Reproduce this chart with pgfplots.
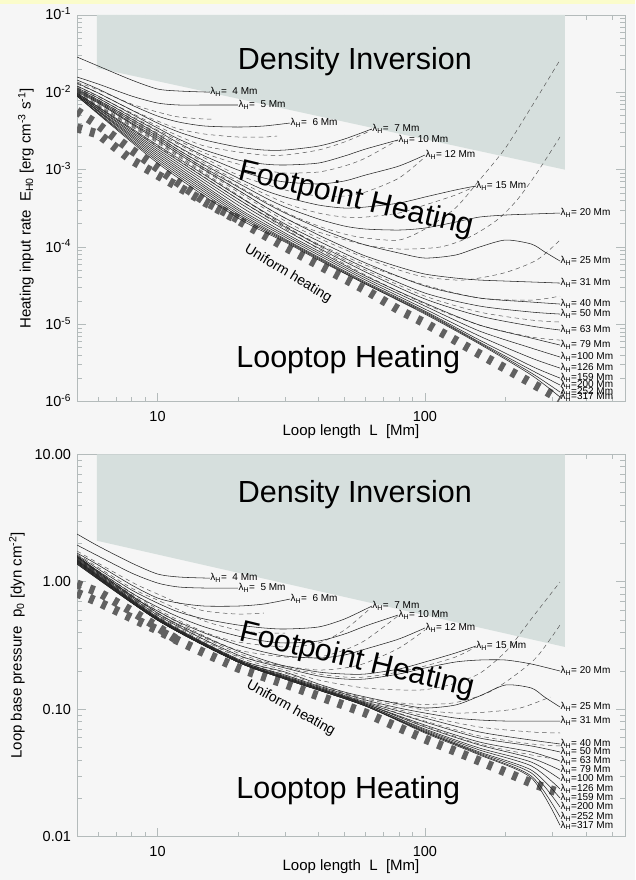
\documentclass[border=0pt]{standalone}
\usepackage{fontspec}
\setmainfont{Liberation Sans}
\usepackage{pgfplots}
\pgfplotsset{compat=1.18}
\definecolor{bgc}{HTML}{F6F6F6}
\definecolor{ylw}{HTML}{FBFCCB}
\definecolor{grz}{HTML}{D6DFDD}
\definecolor{axc}{HTML}{B4BBBB}
\newcommand\lf{\fontsize{10}{11}\selectfont}
\newcommand\bigf{\fontsize{30.5}{32}\selectfont}
\newcommand\uhf{\fontsize{14}{15}\selectfont}
\newcommand\lam[3]{\node[anchor=west,inner sep=0.4pt,font=\lf] at (axis cs:#1,#2) {λ\textsubscript{H}=#3 Mm};}
\newcommand\pa{\hphantom{0}}
\newcommand\pb{\hspace{0.28em}}
\tikzset{
 sol/.style={draw=black!85,line width=0.55pt,smooth,tension=0.45},
 dsh/.style={draw=black!65,line width=0.5pt,dash pattern=on 4.5pt off 3.5pt,smooth,tension=0.45},
 uni/.style={draw=black!62,line width=9pt,dash pattern=on 5pt off 8.5pt},
}
\begin{document}
\begin{tikzpicture}
\fill[bgc] (0pt,0pt) rectangle (635pt,880pt);
\fill[ylw] (0pt,875.5pt) rectangle (635pt,880pt);
% ================= TOP =================
\begin{axis}[xmode=log, ymode=log, scale only axis, width=548pt, anchor=south west,
 xmin=5, xmax=560,
 axis line style={draw=axc,line width=0.7pt},
 every tick/.style={draw=axc,line width=0.6pt},
 major tick length=9pt, minor tick length=5pt,
 xtick={10,100}, xticklabels={10,100},
 minor xtick={6,7,8,9,20,30,40,50,60,70,80,90,200,300,400,500},
 tick label style={font=\fontsize{14.5}{15}\selectfont},
 xticklabel style={anchor=center,yshift=-15pt},
 yticklabel style={anchor=base east,yshift=-5pt,xshift=-2.5pt},
 label style={font=\fontsize{15}{16}\selectfont},
 xlabel={Loop length\ \ L\ \ [Mm]},
 at={(77pt,478.3pt)}, height=386.7pt, ymin=1e-6, ymax=1e-1,
 ytick={1e-6,1e-5,1e-4,1e-3,1e-2,1e-1},
 yticklabels={10\textsuperscript{-6},10\textsuperscript{-5},10\textsuperscript{-4},10\textsuperscript{-3},10\textsuperscript{-2},10\textsuperscript{-1}},
 minor ytick={2e-6,3e-6,4e-6,5e-6,6e-6,7e-6,8e-6,9e-6,2e-5,3e-5,4e-5,5e-5,6e-5,7e-5,8e-5,9e-5,2e-4,3e-4,4e-4,5e-4,6e-4,7e-4,8e-4,9e-4,2e-3,3e-3,4e-3,5e-3,6e-3,7e-3,8e-3,9e-3,2e-2,3e-2,4e-2,5e-2,6e-2,7e-2,8e-2,9e-2},
 xlabel style={at={(axis description cs:0.5,-0.0776)},anchor=center},
 ylabel={Heating input rate\ \ E\textsubscript{H0} [erg cm\textsuperscript{-3} s\textsuperscript{-1}]},
 ylabel style={at={(axis description cs:-0.0931,0.5)},anchor=center},
]
\addplot[fill=grz,draw=none] coordinates {(5.93,0.1) (334,0.1) (334,1.0e-3) (5.93,2.064e-2) (5.93,0.1)};
% uniform heating bundle
\addplot[uni] coordinates {(5,5.73e-3) (6,3.78e-3) (8,1.795e-3) (10,1.050e-3) (12,6.72e-4) (15,3.93e-4) (20,2.30e-4)};
\addplot[uni] coordinates {(5,3.46e-3) (6,2.89e-3) (8,1.333e-3) (10,8.53e-4) (12,5.97e-4) (15,3.82e-4) (20,2.23e-4) (30,1.000e-4) (40,5.85e-5) (60,2.78e-5) (80,1.531e-5) (100,1.039e-5) (160,4.13e-6) (250,1.742e-6) (320,1.082e-6)};
% dashed curves
\addplot[dsh] coordinates {(5,1.360e-2) (6,1.072e-2) (8,7.06e-3) (10,5.57e-3) (12,4.80e-3) (15,4.52e-3) (16,4.52e-3)};
\addplot[dsh] coordinates {(5,1.282e-2) (6,9.80e-3) (8,5.91e-3) (10,4.26e-3) (12,3.36e-3) (15,2.89e-3) (20,2.645e-3) (25,2.645e-3) (28,2.72e-3)};
\addplot[dsh] coordinates {(5,1.207e-2) (8,5.40e-3) (10,3.67e-3) (12,2.72e-3) (15,2.02e-3) (20,1.692e-3) (25,1.547e-3) (30,1.547e-3) (40,1.795e-3) (50,2.28e-3) (60,2.98e-3) (63.3,3.36e-3)};
\addplot[dsh] coordinates {(5,1.172e-2) (8,4.94e-3) (10,3.26e-3) (15,1.642e-3) (20,1.183e-3) (25,9.90e-4) (30,9.05e-4) (40,9.33e-4) (50,1.115e-3) (60,1.415e-3) (79.3,2.42e-3)};
\addplot[dsh] coordinates {(5,1.138e-2) (10,2.98e-3) (15,1.415e-3) (20,8.53e-4) (30,5.46e-4) (40,4.56e-4) (50,4.56e-4) (60,5.14e-4) (80,7.80e-4) (100,1.458e-3)};
\addplot[dsh] coordinates {(5,1.104e-2) (10,2.81e-3) (15,1.219e-3) (20,7.14e-4) (30,3.70e-4) (40,2.75e-4) (50,2.44e-4) (60,2.44e-4) (80,2.75e-4) (100,3.49e-4) (130,4.70e-4) (155,6.15e-4)};
\addplot[dsh] coordinates {(5,1.072e-2) (10,2.645e-3) (15,1.115e-3) (20,6.15e-4) (30,2.83e-4) (40,1.867e-4) (50,1.472e-4) (60,1.306e-4) (80,1.231e-4) (100,1.708e-4) (130,3.19e-4) (160,7.35e-4) (200,1.905e-3) (250,6.46e-3) (320,2.62e-2)};
\addplot[dsh] coordinates {(5,1.040e-2) (10,2.49e-3) (20,5.46e-4) (30,2.37e-4) (40,1.562e-4) (60,1.061e-4) (80,9.42e-5) (114,1.000e-4) (147,1.346e-4) (186,2.23e-4) (221,4.05e-4) (262,9.05e-4) (320,2.645e-3)};
\addplot[dsh] coordinates {(5,1.010e-2) (10,2.35e-3) (20,5.14e-4) (30,2.17e-4) (40,1.306e-4) (60,7.20e-5) (80,5.04e-5) (100,4.09e-5) (139,3.74e-5) (197,4.61e-5) (262,6.79e-5) (320,1.231e-4)};
\addplot[dsh] coordinates {(5,9.80e-3) (10,2.28e-3) (20,4.70e-4) (30,1.867e-4) (40,1.093e-4) (60,5.85e-5) (100,3.22e-5) (160,2.19e-5) (250,2.06e-5) (320,2.32e-5)};
\addplot[dsh] coordinates {(5,9.80e-3) (10,2.21e-3) (20,4.56e-4) (40,1.030e-4) (60,5.04e-5) (100,2.32e-5) (160,1.442e-5) (250,1.137e-5) (320,1.071e-5)};
\addplot[dsh] coordinates {(5,9.51e-3) (10,2.02e-3) (20,4.17e-4) (40,9.42e-5) (60,4.34e-5) (100,1.831e-5) (160,9.79e-6) (250,6.85e-6) (320,6.26e-6)};
% solid curves
\addplot[sol] coordinates {(5,2.863e-2) (6,2.190e-2) (8,1.443e-2) (10,1.104e-2) (12,1.040e-2) (15,1.010e-2) (15.7,1.010e-2)};
\addplot[sol] coordinates {(5,1.578e-2) (6,1.282e-2) (8,8.96e-3) (10,7.28e-3) (12,6.86e-3) (15,6.86e-3) (20,6.86e-3)};
\addplot[sol] coordinates {(5,1.443e-2) (6,1.104e-2) (8,6.86e-3) (10,4.94e-3) (12,4.13e-3) (15,3.67e-3) (20,3.56e-3) (25,3.67e-3) (31.3,4.01e-3)};
\addplot[sol] coordinates {(5,1.320e-2) (6,9.80e-3) (8,5.91e-3) (10,4.01e-3) (12,3.07e-3) (15,2.42e-3) (20,1.963e-3) (25,1.795e-3) (30,1.795e-3) (40,2.02e-3) (50,2.49e-3) (63.3,3.36e-3)};
\addplot[sol] coordinates {(5,1.207e-2) (6,8.96e-3) (8,5.24e-3) (10,3.46e-3) (12,2.49e-3) (15,1.795e-3) (20,1.333e-3) (25,1.183e-3) (30,1.149e-3) (40,1.219e-3) (50,1.502e-3) (60,1.850e-3) (79.3,2.42e-3)};
\addplot[sol] coordinates {(5,1.138e-2) (6,8.44e-3) (8,4.80e-3) (10,3.16e-3) (12,2.21e-3) (15,1.502e-3) (20,9.90e-4) (25,7.80e-4) (30,6.93e-4) (40,6.53e-4) (50,7.14e-4) (60,8.53e-4) (80,1.115e-3) (100,1.547e-3)};
\addplot[sol] coordinates {(5,1.104e-2) (6,7.96e-3) (8,4.52e-3) (10,2.89e-3) (12,1.963e-3) (15,1.294e-3) (20,7.80e-4) (25,5.46e-4) (30,4.43e-4) (40,3.49e-4) (50,3.19e-4) (60,3.29e-4) (80,3.70e-4) (100,4.43e-4) (130,5.46e-4) (155,6.15e-4)};
\addplot[sol] coordinates {(5,1.072e-2) (6,7.73e-3) (8,4.26e-3) (10,2.72e-3) (12,1.795e-3) (15,1.149e-3) (20,6.72e-4) (25,4.43e-4) (30,3.29e-4) (40,2.30e-4) (50,1.867e-4) (60,1.708e-4) (80,1.658e-4) (100,1.760e-4) (130,2.10e-4) (160,2.44e-4) (200,2.59e-4) (250,2.67e-4) (320,2.75e-4)};
\addplot[sol] coordinates {(5,1.040e-2) (6,7.50e-3) (8,4.01e-3) (10,2.57e-3) (12,1.692e-3) (15,1.050e-3) (20,5.97e-4) (25,3.82e-4) (30,2.75e-4) (40,1.760e-4) (50,1.306e-4) (60,1.061e-4) (80,8.36e-5) (100,7.20e-5) (130,7.87e-5) (160,1.000e-4) (200,1.231e-4) (250,1.093e-4) (281,8.61e-5) (320,6.59e-5)};
\addplot[sol] coordinates {(5,1.010e-2) (6,7.28e-3) (8,3.89e-3) (10,2.42e-3) (12,1.594e-3) (15,9.90e-4) (20,5.46e-4) (25,3.39e-4) (30,2.37e-4) (40,1.429e-4) (50,1.000e-4) (60,7.64e-5) (80,5.51e-5) (100,4.47e-5) (130,3.97e-5) (160,3.74e-5) (200,3.63e-5) (250,3.53e-5) (320,3.42e-5)};
\addplot[sol] coordinates {(5,9.80e-3) (10,2.08e-3) (20,4.56e-4) (30,1.982e-4) (40,1.195e-4) (60,6.21e-5) (100,3.13e-5) (160,2.19e-5) (250,1.943e-5) (320,1.831e-5)};
\addplot[sol] coordinates {(5,9.80e-3) (10,1.963e-3) (20,4.17e-4) (30,1.813e-4) (40,1.061e-4) (60,5.35e-5) (100,2.54e-5) (160,1.725e-5) (250,1.442e-5) (320,1.359e-5)};
\addplot[sol] coordinates {(5,9.51e-3) (10,1.850e-3) (20,3.82e-4) (30,1.658e-4) (40,9.70e-5) (60,4.75e-5) (100,2.13e-5) (160,1.281e-5) (250,9.51e-6) (320,8.44e-6)};
\addplot[sol] coordinates {(5,9.51e-3) (10,1.742e-3) (20,3.49e-4) (30,1.516e-4) (40,8.87e-5) (60,4.21e-5) (100,1.886e-5) (160,9.79e-6) (250,6.65e-6) (320,5.40e-6)};
\addplot[sol] coordinates {(5,9.23e-3) (10,1.642e-3) (20,3.19e-4) (30,1.429e-4) (40,8.36e-5) (60,3.97e-5) (100,1.725e-5) (160,8.19e-6) (250,4.94e-6) (320,3.78e-6)};
\addplot[sol] coordinates {(5,9.23e-3) (10,1.547e-3) (20,3.01e-4) (30,1.346e-4) (40,7.87e-5) (60,3.74e-5) (100,1.578e-5) (160,7.06e-6) (250,3.67e-6) (320,2.72e-6)};
\addplot[sol] coordinates {(5,9.23e-3) (10,1.458e-3) (20,2.83e-4) (30,1.268e-4) (40,7.42e-5) (60,3.53e-5) (100,1.486e-5) (160,6.26e-6) (250,2.89e-6) (320,2.02e-6)};
\addplot[sol] coordinates {(5,8.96e-3) (10,1.373e-3) (20,2.67e-4) (30,1.231e-4) (40,7.20e-5) (60,3.42e-5) (100,1.442e-5) (160,5.90e-6) (250,2.56e-6) (320,1.641e-6)};
\addplot[sol] coordinates {(5,8.96e-3) (10,1.294e-3) (20,2.52e-4) (30,1.195e-4) (40,6.99e-5) (60,3.32e-5) (100,1.400e-5) (160,5.73e-6) (250,2.35e-6) (320,1.332e-6)};
\addplot[sol] coordinates {(5,8.96e-3) (10,1.219e-3) (20,2.37e-4) (30,1.160e-4) (40,6.79e-5) (60,3.32e-5) (100,1.359e-5) (160,5.56e-6) (250,2.21e-6) (320,1.148e-6)};
% labels
\lam{15.7}{1.010e-2}{\pa 4}
\lam{20}{6.86e-3}{\pa 5}
\lam{31.3}{4.01e-3}{\pa 6}
\lam{63.3}{3.36e-3}{\pa 7}
\lam{79.3}{2.42e-3}{\pb 10}
\lam{100}{1.547e-3}{\pb 12}
\lam{155}{6.15e-4}{\pb 15}
\lam{320}{2.75e-4}{\pb 20}
\lam{320}{6.59e-5}{\pb 25}
\lam{320}{3.42e-5}{\pb 31}
\lam{320}{1.831e-5}{\pb 40}
\lam{320}{1.359e-5}{\pb 50}
\lam{320}{8.44e-6}{\pb 63}
\lam{320}{5.40e-6}{\pb 79}
\lam{320}{3.78e-6}{100}
\lam{320}{2.72e-6}{126}
\lam{320}{2.02e-6}{159}
\lam{320}{1.641e-6}{200}
\lam{320}{1.332e-6}{252}
\lam{320}{1.148e-6}{317}
\node[font=\bigf,anchor=base] at (rel axis cs:0.507,0.858) {Density Inversion};
\node[font=\bigf,rotate=-13.5] at (rel axis cs:0.509,0.522) {Footpoint Heating};
\node[font=\bigf,anchor=base] at (rel axis cs:0.495,0.0897) {Looptop Heating};
\node[font=\uhf,rotate=-31] at (rel axis cs:0.385,0.330) {Uniform heating};
\end{axis}
% ================= BOTTOM =================
\begin{axis}[xmode=log, ymode=log, scale only axis, width=548pt, anchor=south west,
 xmin=5, xmax=560,
 axis line style={draw=axc,line width=0.7pt},
 every tick/.style={draw=axc,line width=0.6pt},
 major tick length=9pt, minor tick length=5pt,
 xtick={10,100}, xticklabels={10,100},
 minor xtick={6,7,8,9,20,30,40,50,60,70,80,90,200,300,400,500},
 tick label style={font=\fontsize{14.5}{15}\selectfont},
 xticklabel style={anchor=center,yshift=-15pt},
 yticklabel style={anchor=base east,yshift=-5pt,xshift=-2.5pt},
 label style={font=\fontsize{15}{16}\selectfont},
 xlabel={Loop length\ \ L\ \ [Mm]},
 at={(77pt,43.3pt)}, height=382.4pt, ymin=0.01, ymax=10,
 ytick={0.01,0.1,1,10}, yticklabels={0.01,0.10,1.00,10.00},
 minor ytick={0.02,0.03,0.04,0.05,0.06,0.07,0.08,0.09,0.2,0.3,0.4,0.5,0.6,0.7,0.8,0.9,2,3,4,5,6,7,8,9},
 xlabel style={at={(axis description cs:0.5,-0.0792)},anchor=center},
 ylabel={Loop base pressure\ \ p\textsubscript{0} [dyn cm\textsuperscript{-2}]},
 ylabel style={at={(axis description cs:-0.1095,0.5)},anchor=center},
]
\addplot[fill=grz,draw=none] coordinates {(5.93,10) (334,10) (334,0.308) (5.93,2.10) (5.93,10)};
% uniform heating bundle
\addplot[uni] coordinates {(5,0.9605) (6,0.831) (8,0.590) (10,0.442) (12,0.343)};
\addplot[uni] coordinates {(5,0.816) (6,0.694) (8,0.5196) (10,0.418) (12,0.343) (15,0.2761) (20,0.2106) (30,0.1578) (40,0.1269) (60,0.0934) (100,0.0584) (160,0.0392) (250,0.02638) (320,0.02203)};
% dashed
\addplot[dsh] coordinates {(5,1.743) (8,0.9956) (10,0.802) (12,0.681) (15,0.590) (20,0.558) (25,0.569)};
\addplot[dsh] coordinates {(5,1.651) (8,0.893) (10,0.719) (15,0.492) (20,0.418) (25,0.396) (30,0.396)};
\addplot[dsh] coordinates {(5,1.564) (10,0.611) (15,0.403) (20,0.337) (30,0.308) (40,0.331) (50,0.418) (63.3,0.634)};
\addplot[dsh] coordinates {(5,1.508) (10,0.590) (15,0.375) (20,0.2914) (30,0.2568) (40,0.2568) (50,0.2914) (60,0.349) (79.3,0.539)};
\addplot[dsh] coordinates {(5,1.481) (10,0.569) (15,0.349) (20,0.2615) (30,0.2183) (40,0.2031) (50,0.2106) (60,0.2305) (80,0.302) (100,0.418)};
\addplot[dsh] coordinates {(5,1.564) (10,0.558) (20,0.2761) (30,0.2144) (40,0.1890) (50,0.1790) (60,0.1790) (80,0.1959) (100,0.2183) (130,0.2568) (155,0.308)};
\addplot[dsh] coordinates {(5,1.564) (10,0.539) (20,0.2568) (30,0.2031) (40,0.1696) (60,0.1467) (96,0.1415) (127,0.1578) (161,0.1924) (203,0.2914) (253,0.529) (320,0.9956)};
\addplot[dsh] coordinates {(5,1.536) (10,0.529) (20,0.2477) (30,0.1924) (40,0.1549) (60,0.1224) (90,0.1099) (127,0.1119) (171,0.1340) (213,0.1790) (262,0.2568) (320,0.458)};
\addplot[dsh] coordinates {(5,1.508) (10,0.5196) (20,0.2433) (30,0.1857) (40,0.1521) (60,0.1203) (100,0.0986) (130,0.0934) (171,0.0951) (227,0.1022) (294,0.1247)};
\addplot[dsh] coordinates {(5,1.481) (10,0.5196) (20,0.2433) (40,0.1494) (60,0.1160) (100,0.0885) (160,0.0725) (250,0.0663) (320,0.0651)};
\addplot[dsh] coordinates {(5,1.455) (10,0.510) (20,0.2389) (40,0.1467) (60,0.1119) (100,0.0808) (160,0.0617) (250,0.0534) (320,0.0515)};
\addplot[dsh] coordinates {(5,1.429) (10,0.501) (20,0.2347) (40,0.1441) (60,0.1099) (100,0.0738) (160,0.0534) (250,0.0438) (320,0.0400)};
% solid
\addplot[sol] coordinates {(5,2.370) (6,1.908) (8,1.403) (10,1.151) (12,1.090) (15,1.070) (15.7,1.070)};
\addplot[sol] coordinates {(5,1.943) (6,1.593) (8,1.171) (10,0.978) (12,0.910) (15,0.893) (20,0.893)};
\addplot[sol] coordinates {(5,1.681) (6,1.354) (8,0.943) (10,0.746) (12,0.681) (15,0.645) (20,0.645) (25,0.669) (31.3,0.732)};
\addplot[sol] coordinates {(5,1.622) (6,1.259) (8,0.862) (10,0.681) (12,0.579) (15,0.510) (20,0.458) (25,0.434) (30,0.426) (40,0.442) (50,0.510) (63.3,0.645)};
\addplot[sol] coordinates {(5,1.593) (6,1.214) (8,0.816) (10,0.634) (12,0.529) (15,0.442) (20,0.375) (25,0.343) (30,0.331) (40,0.343) (50,0.389) (60,0.450) (79.3,0.548)};
\addplot[sol] coordinates {(5,1.593) (8,0.773) (10,0.590) (12,0.483) (15,0.396) (20,0.319) (25,0.2811) (30,0.2615) (40,0.2522) (50,0.2663) (60,0.297) (80,0.356) (100,0.434)};
\addplot[sol] coordinates {(5,1.564) (10,0.569) (15,0.369) (20,0.2862) (25,0.2433) (30,0.2183) (40,0.1959) (50,0.1890) (60,0.1890) (80,0.2068) (100,0.2347) (130,0.2761) (155,0.313)};
\addplot[sol] coordinates {(5,1.564) (10,0.548) (20,0.2663) (30,0.2106) (40,0.1823) (50,0.1727) (60,0.1727) (80,0.1890) (100,0.2106) (130,0.2347) (160,0.2433) (200,0.2433) (250,0.2264) (320,0.1995)};
\addplot[sol] coordinates {(5,1.536) (10,0.529) (20,0.2477) (30,0.1959) (40,0.1578) (50,0.1365) (60,0.1247) (80,0.1099) (100,0.1022) (130,0.1079) (160,0.1269) (200,0.1549) (250,0.1467) (280,0.1247) (320,0.1041)};
\addplot[sol] coordinates {(5,1.508) (10,0.5196) (20,0.2433) (30,0.1857) (40,0.1521) (60,0.1181) (80,0.1022) (100,0.0934) (130,0.0853) (160,0.0823) (200,0.0808) (250,0.0808) (320,0.0808)};
\addplot[sol] coordinates {(5,1.481) (10,0.5196) (20,0.2433) (30,0.1823) (40,0.1494) (60,0.1139) (100,0.0853) (160,0.0663) (250,0.0573) (320,0.0534)};
\addplot[sol] coordinates {(5,1.481) (10,0.510) (20,0.2389) (30,0.1790) (40,0.1467) (60,0.1119) (100,0.0794) (160,0.0595) (250,0.0515) (320,0.0462)};
\addplot[sol] coordinates {(5,1.455) (10,0.510) (20,0.2389) (30,0.1790) (40,0.1467) (60,0.1099) (100,0.0752) (160,0.0553) (250,0.0462) (320,0.0392)};
\addplot[sol] coordinates {(5,1.455) (10,0.510) (20,0.2389) (30,0.1758) (40,0.1441) (60,0.1099) (100,0.0725) (160,0.0524) (250,0.0414) (320,0.0333)};
\addplot[sol] coordinates {(5,1.429) (10,0.501) (20,0.2347) (30,0.1758) (40,0.1441) (60,0.1079) (100,0.0700) (160,0.0496) (250,0.0385) (320,0.0283)};
\addplot[sol] coordinates {(5,1.429) (10,0.501) (20,0.2347) (30,0.1758) (40,0.1441) (60,0.1079) (100,0.0687) (160,0.0479) (250,0.0359) (320,0.0237)};
\addplot[sol] coordinates {(5,1.403) (10,0.501) (20,0.2347) (30,0.1727) (40,0.1415) (60,0.1060) (100,0.0675) (160,0.0462) (250,0.0333) (320,0.0201)};
\addplot[sol] coordinates {(5,1.403) (10,0.501) (20,0.2347) (30,0.1727) (40,0.1415) (60,0.1060) (100,0.0663) (160,0.0453) (250,0.0316) (320,0.0171)};
\addplot[sol] coordinates {(5,1.378) (10,0.501) (20,0.2347) (30,0.1727) (40,0.1415) (60,0.1060) (100,0.0663) (160,0.0445) (250,0.0299) (320,0.0143)};
\addplot[sol] coordinates {(5,1.378) (10,0.501) (20,0.2347) (30,0.1727) (40,0.1415) (60,0.1060) (100,0.0651) (160,0.0438) (250,0.0289) (320,0.0123)};
% labels
\lam{15.7}{1.070}{\pa 4}
\lam{20}{0.893}{\pa 5}
\lam{31.3}{0.732}{\pa 6}
\lam{63.3}{0.645}{\pa 7}
\lam{79.3}{0.548}{\pb 10}
\lam{100}{0.434}{\pb 12}
\lam{155}{0.313}{\pb 15}
\lam{320}{0.1995}{\pb 20}
\lam{320}{0.1041}{\pb 25}
\lam{320}{0.0808}{\pb 31}
\lam{320}{0.0534}{\pb 40}
\lam{320}{0.0462}{\pb 50}
\lam{320}{0.0392}{\pb 63}
\lam{320}{0.0333}{\pb 79}
\lam{320}{0.0283}{100}
\lam{320}{0.0237}{126}
\lam{320}{0.0201}{159}
\lam{320}{0.0171}{200}
\lam{320}{0.0143}{252}
\lam{320}{0.0123}{317}
\node[font=\bigf,anchor=base] at (rel axis cs:0.507,0.873) {Density Inversion};
\node[font=\bigf,rotate=-13.5] at (rel axis cs:0.511,0.459) {Footpoint Heating};
\node[font=\bigf,anchor=base] at (rel axis cs:0.495,0.101) {Looptop Heating};
\node[font=\uhf,rotate=-29] at (rel axis cs:0.390,0.335) {Uniform heating};
\end{axis}
\pgfresetboundingbox
\useasboundingbox (0pt,0pt) rectangle (635pt,880pt);
\end{tikzpicture}
\end{document}
